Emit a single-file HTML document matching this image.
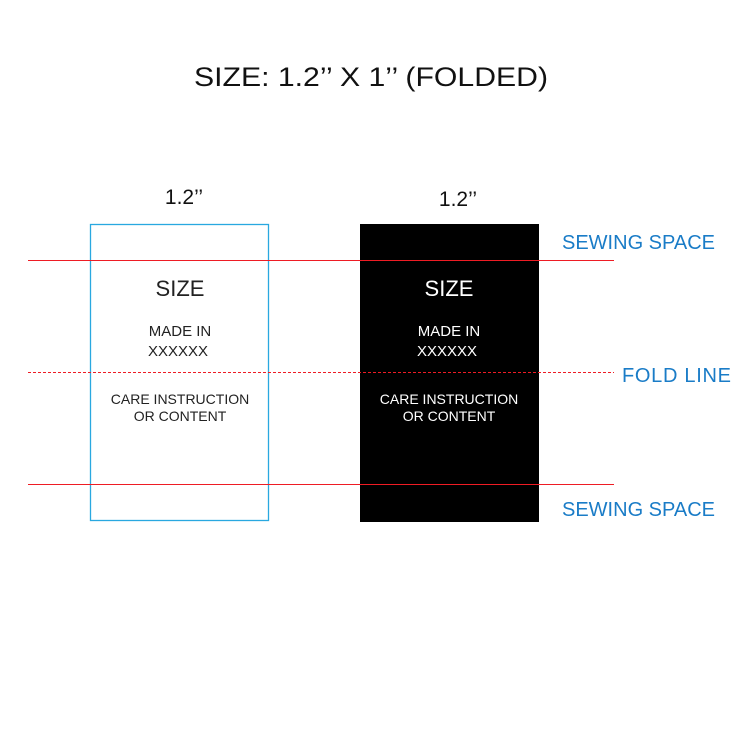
<!DOCTYPE html>
<html><head><meta charset="utf-8"><style>html,body{margin:0;padding:0;background:#fff}</style></head>
<body>
<svg width="750" height="750" viewBox="0 0 750 750" xmlns="http://www.w3.org/2000/svg" font-family="Liberation Sans, sans-serif">
<rect width="750" height="750" fill="#fff"/>
<text x="194" y="86" font-size="27" fill="#111" textLength="354" lengthAdjust="spacingAndGlyphs">SIZE: 1.2’’ X 1’’ (FOLDED)</text>
<text x="184" y="204" font-size="21" text-anchor="middle" fill="#111">1.2’’</text>
<text x="458" y="206" font-size="21" text-anchor="middle" fill="#111">1.2’’</text>
<rect x="90.5" y="224.5" width="178" height="296" fill="none" stroke="#29a8e0" stroke-width="1.3"/>
<rect x="360" y="224" width="179" height="298" fill="#000"/>
<line x1="28" y1="260.5" x2="614" y2="260.5" stroke="#ee1c24" stroke-width="1"/>
<line x1="28" y1="484.5" x2="614" y2="484.5" stroke="#ee1c24" stroke-width="1"/>
<line x1="28" y1="372.5" x2="614" y2="372.5" stroke="#ee1c24" stroke-width="1" stroke-dasharray="3,2"/>
<g text-anchor="middle" fill="#222">
<text x="180" y="296" font-size="22">SIZE</text>
<text x="180" y="336" font-size="15">MADE IN</text>
<text x="178" y="356" font-size="15">XXXXXX</text>
<text x="180" y="404" font-size="14">CARE INSTRUCTION</text>
<text x="180" y="421" font-size="14">OR CONTENT</text>
</g>
<g text-anchor="middle" fill="#fff">
<text x="449" y="296" font-size="22">SIZE</text>
<text x="449" y="336" font-size="15">MADE IN</text>
<text x="447" y="356" font-size="15">XXXXXX</text>
<text x="449" y="404" font-size="14">CARE INSTRUCTION</text>
<text x="449" y="421" font-size="14">OR CONTENT</text>
</g>
<g fill="#1a7cc7" font-size="20">
<text x="562" y="249" textLength="153">SEWING SPACE</text>
<text x="622" y="382" textLength="109">FOLD LINE</text>
<text x="562" y="516" textLength="153">SEWING SPACE</text>
</g>
</svg>
</body></html>
